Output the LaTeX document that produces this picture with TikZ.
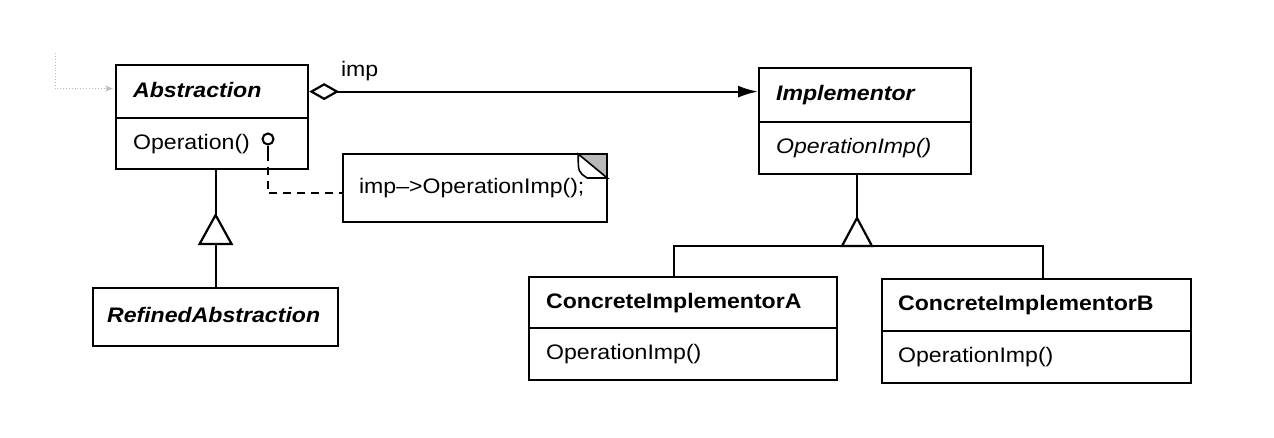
\documentclass[tikz,border=0pt]{standalone}
\usepackage{fontspec}
\setmainfont{Liberation Sans}[FakeStretch=1.1]
\usetikzlibrary{arrows.meta,calc}
\begin{document}
\begin{tikzpicture}[x=1pt,y=-1pt,line width=2.2pt,
  font=\fontsize{21pt}{25pt}\selectfont,
  cbox/.style={draw,rectangle,anchor=north west,inner xsep=17pt,inner ysep=0pt,
    align=left,text height=15pt,text depth=4pt},
  ab/.style={font=\fontsize{21pt}{25pt}\selectfont\bfseries\itshape},
  cb/.style={font=\fontsize{21pt}{25pt}\selectfont\bfseries},
  it/.style={font=\fontsize{21pt}{25pt}\selectfont\itshape},
  inh/.style={draw,fill=white},
  dashline/.style={dash pattern=on 8pt off 6pt},
  faint/.style={draw=gray!55,line width=0.9pt,dotted}]
\fill[white] (0,0) rectangle (1274,437);
\useasboundingbox (0,0) rectangle (1274,437);

% Abstraction
\node[cbox,ab,minimum width=192pt,minimum height=53pt,text width=158pt] (absH) at (115,64) {Abstraction};
\node[cbox,minimum width=192pt,minimum height=51pt,text width=158pt] (absO) at (115,117) {Operation()};

% Implementor
\node[cbox,ab,minimum width=212pt,minimum height=54pt,text width=178pt] (impH) at (758,67) {Implementor};
\node[cbox,it,minimum width=212pt,minimum height=52pt,text width=178pt] (impO) at (758,121) {OperationImp()};

% RefinedAbstraction
\node[cbox,ab,inner xsep=14pt,minimum width=245pt,minimum height=58pt,text width=217pt] (ref) at (92,287) {RefinedAbstraction};

% Concrete implementors
\node[cbox,cb,minimum width=308pt,minimum height=51pt,text width=274pt] (caH) at (528,276) {ConcreteImplementorA};
\node[cbox,minimum width=308pt,minimum height=52pt,text width=274pt] (caO) at (528,327) {OperationImp()};
\node[cbox,cb,inner xsep=16pt,minimum width=309pt,minimum height=52pt,text width=277pt] (cbH) at (881,278) {ConcreteImplementorB};
\node[cbox,inner xsep=16pt,minimum width=309pt,minimum height=52pt,text width=277pt] (cbO) at (881,330) {OperationImp()};

% Note with dog-ear
\node[anchor=north west,inner xsep=15pt,inner ysep=0pt,minimum width=262pt,minimum height=66pt,
  text width=232pt,align=left] (note) at (343,154) {imp-->OperationImp();};
\coordinate (nf1) at ($(note.north east)+(-29,0)$);
\coordinate (nf2) at ($(note.north east)+(0,24)$);
\coordinate (nf3) at ($(note.north east)+(-20,24)$);
\draw (nf1) -- (note.north west) -- (note.south west) -- (note.south east) -- (nf2);
\fill[gray!55] (nf1) -- (note.north east) -- (nf2) -- cycle;
\draw (nf1) -- (note.north east) -- (nf2);
\draw[fill=white,line width=1.6pt] (nf1) .. controls ($(nf1)+(0,18)$) .. (nf3) -- (nf2) -- cycle;

% Lollipop and dashed link to note
\node[circle,draw,line width=2pt,minimum size=11pt,inner sep=0pt] (lolli) at (268,139) {};
\draw (lolli.south) -- ++(0,7) coordinate (stemend);
\draw[dashline] (stemend) |- ($(note.west)+(0,5)$);

% Association with aggregation diamond
\draw[{Diamond[open,length=30pt,width=17pt]}-{Latex[length=20pt,width=12pt]}]
  (absH.east) -- (absH.east -| impH.west);
\node[anchor=south west,inner sep=0pt] (implabel) at (340,82) {imp};

% Inheritance Abstraction <- RefinedAbstraction
\path (ref.north) ++(0,-72) coordinate (t1apex);
\draw (t1apex) -- (t1apex |- absO.south);
\draw (ref.north) -- ++(0,-43);
\draw[inh] (t1apex) -- ++(-16,29) -- ++(32,0) -- cycle;

% Inheritance Implementor <- Concrete A/B
\coordinate (t2apex) at (857,218);
\coordinate (barA) at (674,246);
\coordinate (barB) at (1043,246);
\draw (t2apex) -- (t2apex |- impO.south);
\draw (barA |- caH.north) -- (barA) -- (barB) -- (barB |- cbH.north);
\draw[inh] (t2apex) -- ++(-15,28) -- ++(30,0) -- cycle;

% Faint dotted connector at the left
\coordinate (dotstart) at (55,53);
\draw[faint,-{Stealth[length=8pt,width=6pt]}] (dotstart) |- ($(absH.west)+(-2,-3)$);
\end{tikzpicture}
\end{document}
